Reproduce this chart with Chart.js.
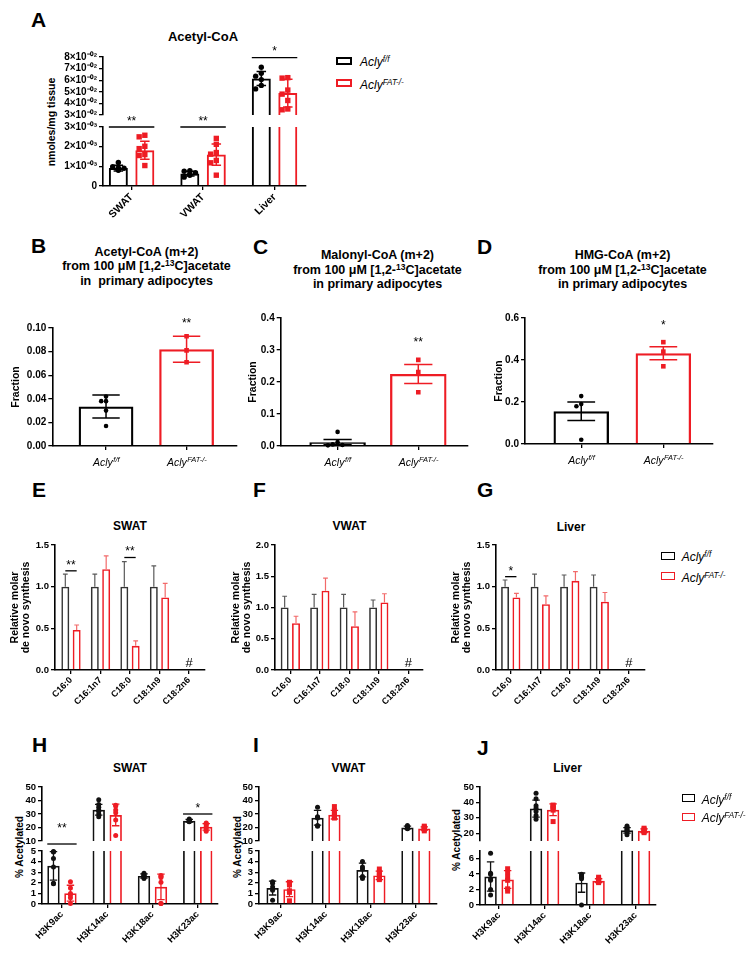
<!DOCTYPE html>
<html>
<head>
<meta charset="utf-8">
<script src="https://cdn.jsdelivr.net/npm/chart.js@4.4.1/dist/chart.umd.min.js"></script>
<style>
  body { margin: 0; background: #fff; }
  #fig { position: relative; width: 754px; height: 953px; overflow: hidden; font-family: 'Liberation Sans', Arial, sans-serif; color: #000; }
  #fig canvas { position: absolute; }
  .lbl { position: absolute; font-weight: bold; font-size: 21px; line-height: 21px; }
  .ttl { position: absolute; transform: translateX(-50%); text-align: center; font-weight: bold; font-size: 12.5px; line-height: 14.5px; white-space: pre; }
  .ttl sup, .leg sup { font-size: 0.68em; line-height: 0; vertical-align: 0.45em; }
  .ytl { position: absolute; font-weight: bold; white-space: nowrap; line-height: 1; transform: translate(-50%, -50%) rotate(-90deg); }
  .box { position: absolute; box-sizing: border-box; }
  .leg { position: absolute; font-style: italic; font-size: 12px; line-height: 14px; white-space: nowrap; }
</style>
</head>
<body>
<div id="fig">
  <div class="lbl" style="left:31px;top:9px">A</div>
  <div class="lbl" style="left:31px;top:235px">B</div>
  <div class="lbl" style="left:253px;top:236px">C</div>
  <div class="lbl" style="left:477px;top:236px">D</div>
  <div class="lbl" style="left:32px;top:479px">E</div>
  <div class="lbl" style="left:253px;top:479px">F</div>
  <div class="lbl" style="left:477px;top:479px">G</div>
  <div class="lbl" style="left:32px;top:734px">H</div>
  <div class="lbl" style="left:253px;top:734px">I</div>
  <div class="lbl" style="left:477px;top:737px">J</div>

  <div class="ttl" style="left:203px;top:28.5px;font-size:13px;line-height:15px">Acetyl-CoA</div>
  <div class="ttl" style="left:146.5px;top:244.5px">Acetyl-CoA (m+2)<br>from 100 μM [1,2-<sup>13</sup>C]acetate<br>in  primary adipocytes</div>
  <div class="ttl" style="left:377.5px;top:248px">Malonyl-CoA (m+2)<br>from 100 μM [1,2-<sup>13</sup>C]acetate<br>in primary adipocytes</div>
  <div class="ttl" style="left:622.5px;top:248px">HMG-CoA (m+2)<br>from 100 μM [1,2-<sup>13</sup>C]acetate<br>in primary adipocytes</div>
  <div class="ttl" style="left:130px;top:519px;font-size:12px;line-height:14px">SWAT</div>
  <div class="ttl" style="left:349.5px;top:519px;font-size:12px;line-height:14px">VWAT</div>
  <div class="ttl" style="left:571px;top:520px;font-size:12px;line-height:14px">Liver</div>
  <div class="ttl" style="left:130px;top:761px;font-size:12px;line-height:14px">SWAT</div>
  <div class="ttl" style="left:348.5px;top:761px;font-size:12px;line-height:14px">VWAT</div>
  <div class="ttl" style="left:567.5px;top:761px;font-size:12px;line-height:14px">Liver</div>

  <div class="ytl" style="left:51px;top:122px;font-size:10.5px">nmoles/mg tissue</div>
  <div class="ytl" style="left:20px;top:847px;font-size:10px">% Acetylated</div>
  <div class="ytl" style="left:238px;top:847px;font-size:10px">% Acetylated</div>
  <div class="ytl" style="left:457px;top:840px;font-size:10px">% Acetylated</div>
</div>

<script>
Chart.defaults.font.family = "'Liberation Sans', Arial, sans-serif";
Chart.defaults.color = '#000';

const RED = '#ee1c24';
const FONT = "'Liberation Sans', Arial, sans-serif";

// ---------- data ----------
const genotypes = [['Acly', 'f/f'], ['Acly', 'FAT-/-']];

// A: acetyl-CoA (nmoles/mg tissue)
const tissues = ['SWAT', 'VWAT', 'Liver'];
const acFF = [0.00091, 0.00063, 0.0614];
const acFFsd = [0.00015, 0.00012, 0.006];
const acKO = [0.00182, 0.0016, 0.0489];
const acKOsd = [0.00046, 0.00054, 0.012];
const acFFpts = [
  [0.0012, 0.00098, 0.00092, 0.0009, 0.00085, 0.00082, 0.0008],
  [0.00078, 0.00075, 0.00068, 0.00062, 0.00055, 0.00045],
  [0.0712, 0.066, 0.0635, 0.0605, 0.0555, 0.0525]
];
const acKOpts = [
  [0.00258, 0.0025, 0.00202, 0.0019, 0.0016, 0.00155, 0.00104],
  [0.00242, 0.00212, 0.0017, 0.00162, 0.0013, 0.00118, 0.00055],
  [0.0622, 0.0618, 0.0515, 0.048, 0.0425, 0.0352, 0.0345]
];
const acTicksLow = ['0', '1×10⁻⁰³', '2×10⁻⁰³', '3×10⁻⁰³'];
const acTicksHigh = ['3×10⁻⁰²', '4×10⁻⁰²', '5×10⁻⁰²', '6×10⁻⁰²', '7×10⁻⁰²', '8×10⁻⁰²'];

// B-D: m+2 fraction in primary adipocytes
const acetylFF = [0.0335], acetylFFsd = [0.0098];
const acetylKO = [0.082], acetylKOsd = [0.011];
const acetylFFpts = [[0.042, 0.038, 0.038, 0.030, 0.017]];
const acetylKOpts = [[0.093, 0.081, 0.071]];
const malonylFF = [0.012], malonylFFsd = [0.008];
const malonylKO = [0.225], malonylKOsd = [0.03];
const malonylFFpts = [[0.044, 0.012, 0.005, 0.003, 0.002]];
const malonylKOpts = [[0.269, 0.231, 0.168]];
const hmgFF = [0.156], hmgFFsd = [0.044];
const hmgKO = [0.432], hmgKOsd = [0.031];
const hmgFFpts = [[0.228, 0.19, 0.18, 0.02]];
const hmgKOpts = [[0.485, 0.44, 0.37]];

// E-G: relative molar de novo synthesis
const fattyAcids = ['C16:0', 'C16:1n7', 'C18:0', 'C18:1n9', 'C18:2n6'];
const swatFF = [1, 1, 1, 1, null], swatFFsd = [0.15, 0.15, 0.30, 0.25, null];
const swatKO = [0.48, 1.21, 0.29, 0.87, null], swatKOsd = [0.06, 0.16, 0.06, 0.17, null];
const vwatFF = [1, 1, 1, 1, null], vwatFFsd = [0.18, 0.21, 0.21, 0.12, null];
const vwatKO = [0.75, 1.27, 0.70, 1.08, null], vwatKOsd = [0.11, 0.20, 0.23, 0.14, null];
const liverFF = [1, 1, 1, 1, null], liverFFsd = [0.08, 0.15, 0.14, 0.14, null];
const liverKO = [0.87, 0.79, 1.07, 0.82, null], liverKOsd = [0.05, 0.10, 0.11, 0.11, null];

// H-J: % acetylated histone H3
const histoneSites = ['H3K9ac', 'H3K14ac', 'H3K18ac', 'H3K23ac'];
const swatHFF = [3.6, 33.2, 2.65, 25.0], swatHFFsd = [1.35, 4.0, 0.2, 1.0];
const swatHKO = [1.02, 29.3, 1.62, 20.5], swatHKOsd = [0.75, 8.0, 1.2, 2.4];
const swatHFFpts = [[4.95, 4.9, 4.3, 3.5, 1.95, 1.9], [40.5, 37, 35, 33, 32, 30, 28], [2.9, 2.8, 2.7, 2.65, 2.55, 2.4, 2.6], [26.3, 25.6, 25.2, 24.8, 24.5, 24.2]];
const swatHKOpts = [[2.1, 1.5, 1.0, 0.85, 0.6, 0.05], [36.5, 36, 33, 31, 25.5, 14], [2.7, 2.6, 2.5, 2.05, 0.05, 0.05], [23.3, 22.7, 22, 20.5, 19, 17.3]];
const vwatHFF = [1.5, 27.2, 3.2, 20.0], vwatHFFsd = [0.65, 5.5, 0.65, 1.0];
const vwatHKO = [1.4, 29.5, 2.7, 19.2], vwatHKOsd = [0.7, 3.2, 0.4, 1.2];
const vwatHFFpts = [[2.1, 1.95, 1.6, 1.3, 0.35], [35, 28, 27.5, 27, 21.5, 21], [4.0, 3.5, 3.3, 2.6, 2.4], [21.5, 20.5, 20, 19.5, 19]];
const vwatHKOpts = [[2.05, 1.9, 1.8, 1.25, 1.1, 0.3], [35.5, 32.5, 30, 29, 28, 27], [3.3, 3.0, 2.8, 2.6, 2.4, 2.3], [21, 20.3, 19.5, 19, 18.5, 17.5]];
const liverHFF = [3.7, 36.0, 2.9, 21.9], liverHFFsd = [1.9, 5.5, 1.25, 1.8];
const liverHKO = [3.3, 35.2, 3.15, 21.6], liverHKOsd = [1.15, 3.8, 0.25, 1.2];
const liverHFFpts = [[6.7, 4.1, 4.0, 3.4, 3.2, 2.0, 1.3], [45.9, 42.4, 37.8, 36.3, 34.1, 31.5, 29.1], [4.0, 3.75, 3.6, 3.4, 0.0], [24.8, 23.9, 23, 22.2, 21.5, 20.9, 19.1]];
const liverHKOpts = [[4.7, 4.2, 3.6, 3.2, 2.1, 1.8], [38.3, 37.8, 37, 36.3, 35, 27.6], [3.6, 3.4, 3.3, 3.1, 3.0, 2.9], [23.3, 22.6, 21.7, 21.1, 20.4]];

// ---------- helpers ----------
const fixed = d => v => v.toFixed(d);

// simple beeswarm so dots with close values sit side by side
function swarm(py, r, half) {
  const placed = [];
  return py.map(y => {
    const cands = [0];
    for (let k = 1; k <= 4; k++) cands.push(-k * 2.1 * r, k * 2.1 * r);
    for (const dx of cands) {
      if (Math.abs(dx) > half) continue;
      if (placed.every(p => Math.hypot(p.dx - dx, p.y - y) >= 2 * r)) {
        placed.push({ dx, y });
        return dx;
      }
    }
    placed.push({ dx: 0, y });
    return 0;
  });
}

function dot(ctx, shape, x, y, r) {
  ctx.beginPath();
  if (shape === 'square') ctx.rect(x - r, y - r, 2 * r, 2 * r);
  else ctx.arc(x, y, r, 0, Math.PI * 2);
  ctx.fill();
}

// error bars, dots, significance marks
function marks(o) {
  return {
    id: 'marks',
    afterDatasetsDraw(chart) {
      const ctx = chart.ctx, xs = chart.scales.x, ys = chart.scales.y, a = chart.chartArea;
      ctx.save();
      ctx.beginPath();
      ctx.rect(a.left, a.top - 3, a.right - a.left, a.bottom - a.top + 6);
      ctx.clip();
      o.series.forEach((s, di) => {
        const meta = chart.getDatasetMeta(di);
        s.vals.forEach((m, j) => {
          if (m == null) return;
          const bar = meta.data[j];
          const cx = bar.x, bw = bar.width;
          if (s.sd) {
            const top = ys.getPixelForValue(m + s.sd[j]);
            const bot = ys.getPixelForValue(o.oneSided ? m : m - s.sd[j]);
            const cap = bw * (o.cap || 0.25);
            ctx.strokeStyle = s.err || s.edge;
            ctx.lineWidth = o.ew || 1.5;
            ctx.beginPath();
            ctx.moveTo(cx, top); ctx.lineTo(cx, bot);
            ctx.moveTo(cx - cap, top); ctx.lineTo(cx + cap, top);
            if (!o.oneSided) { ctx.moveTo(cx - cap, bot); ctx.lineTo(cx + cap, bot); }
            ctx.stroke();
          }
          if (s.pts) {
            const r = o.r || 2.3;
            const py = s.pts[j].map(v => ys.getPixelForValue(v));
            const dx = swarm(py, r, bw / 2 - r);
            ctx.fillStyle = s.edge;
            py.forEach((y, k) => dot(ctx, s.shape, cx + dx[k], y, r));
          }
        });
      });
      ctx.restore();

      ctx.save();
      ctx.fillStyle = '#000';
      ctx.strokeStyle = '#000';
      ctx.lineWidth = 1.3;
      ctx.textAlign = 'center';
      ctx.textBaseline = 'alphabetic';
      (o.sig || []).forEach(g => {
        const y = ys.getPixelForValue(g.v);
        let mid, starY;
        if (g.line) {
          const b0 = chart.getDatasetMeta(0).data[g.j], b1 = chart.getDatasetMeta(1).data[g.j];
          const x0 = g.line === 'outer' ? b0.x - b0.width / 2 : b0.x;
          const x1 = g.line === 'outer' ? b1.x + b1.width / 2 : b1.x;
          ctx.beginPath(); ctx.moveTo(x0, y); ctx.lineTo(x1, y); ctx.stroke();
          mid = (x0 + x1) / 2;
          starY = g.tv != null ? ys.getPixelForValue(g.tv) : y - 9;
        } else {
          mid = chart.getDatasetMeta(g.s).data[g.j].x;
          starY = y;
        }
        ctx.font = '12px ' + FONT;
        ctx.fillText(g.t, mid, starY + 6.9);
      });
      (o.hash || []).forEach(h => {
        ctx.font = '13px ' + FONT;
        ctx.fillText(h.t, xs.getPixelForValue(h.j), a.bottom - 3);
      });
      (o.rich || []).forEach((lab, j) => {
        const cx = xs.getPixelForValue(j), y = a.bottom + 20;
        ctx.textAlign = 'left';
        ctx.font = 'italic 10.5px ' + FONT;
        const w1 = ctx.measureText(lab[0]).width;
        ctx.font = 'italic 7.5px ' + FONT;
        const w2 = ctx.measureText(lab[1]).width;
        const x0 = cx - (w1 + w2) / 2;
        ctx.font = 'italic 10.5px ' + FONT;
        ctx.fillText(lab[0], x0, y);
        ctx.font = 'italic 7.5px ' + FONT;
        ctx.fillText(lab[1], x0 + w1 + 0.5, y - 4);
      });
      ctx.restore();
    }
  };
}

function makePanel(o) {
  const fig = document.getElementById('fig');
  const cv = document.createElement('canvas');
  const a = o.area;
  const padT = o.padT || 12, padR = 14, padB = o.showX ? 0 : 8;
  const xH = o.showX ? o.xH : 0;
  cv.width = Math.round(o.W + a.r - a.l + padR);
  cv.height = Math.round(padT + a.b - a.t + xH + padB);
  cv.style.left = (a.l - o.W) + 'px';
  cv.style.top = (a.t - padT) + 'px';
  fig.appendChild(cv);

  const axisLine = { color: '#000', width: 1.6 };
  const tickGrid = { drawOnChartArea: false, color: '#000', lineWidth: 1.3, tickLength: 4, offset: false };

  new Chart(cv, {
    type: 'bar',
    data: {
      datasets: o.series.map(s => ({
        data: s.vals.map((v, i) => ({ x: (s.at || 0) + i, y: v })),
        borderColor: s.edge,
        backgroundColor: 'rgba(255,255,255,0)',
        borderWidth: o.bw,
        borderSkipped: 'bottom',
        grouped: o.grouped !== false,
        categoryPercentage: o.cp,
        barPercentage: o.bp,
        clip: 0
      }))
    },
    options: {
      responsive: false,
      animation: false,
      devicePixelRatio: 1,
      events: [],
      layout: { padding: { top: padT, right: padR, bottom: padB, left: 0 } },
      plugins: { legend: { display: false }, tooltip: { enabled: false } },
      scales: {
        x: {
          type: 'linear', min: o.xmin, max: o.xmax, offset: false, display: !!o.showX,
          border: axisLine,
          grid: tickGrid,
          ticks: {
            stepSize: 1, includeBounds: false, autoSkip: false, display: !!o.cats,
            minRotation: 45, maxRotation: 45, padding: 1,
            font: { size: o.xf || 9.5, weight: 'bold' },
            callback: v => (o.cats ? o.cats[v] : '')
          },
          afterFit: s => { s.height = xH; }
        },
        y: {
          min: o.ymin, max: o.ymax,
          border: axisLine,
          grid: tickGrid,
          ticks: { stepSize: o.step, includeBounds: false, autoSkip: false, padding: 2, font: { size: o.tf || 9.5, weight: 'bold' }, callback: o.yfmt },
          title: o.ytitle
            ? { display: true, text: o.ytitle, font: { size: 10.5, weight: 'bold', lineHeight: 1.0 }, padding: { top: 4, bottom: 0 } }
            : { display: false },
          afterFit: s => { s.width = o.W; }
        }
      }
    },
    plugins: [marks(o)]
  });
}

function legend(x, y, gap, bw, bh, lw, textX) {
  const fig = document.getElementById('fig');
  [['#000', genotypes[0]], [RED, genotypes[1]]].forEach(([c, g], k) => {
    const b = document.createElement('div');
    b.className = 'box';
    b.style.cssText = `left:${x}px;top:${y + k * gap}px;width:${bw}px;height:${bh}px;border:${lw}px solid ${c}`;
    fig.appendChild(b);
    const t = document.createElement('div');
    t.className = 'leg';
    t.style.left = textX + 'px';
    t.style.top = (y + k * gap - 1.5) + 'px';
    t.innerHTML = g[0] + '<sup>' + g[1] + '</sup>';
    fig.appendChild(t);
  });
}

// ---------- panel A (broken axis: two stacked charts) ----------
const seriesA = [
  { vals: acFF, sd: acFFsd, pts: acFFpts, edge: '#000', shape: 'circle' },
  { vals: acKO, sd: acKOsd, pts: acKOpts, edge: RED, shape: 'square' }
];
const baseA = { W: 48, xmin: -0.4, xmax: 2.44, series: seriesA, cp: 0.741, bp: 0.717, bw: 2, r: 2.7, ew: 1.5, tf: 10 };
makePanel(Object.assign({}, baseA, {
  area: { l: 103, t: 57, r: 306, b: 115.3 }, padT: 14, showX: false,
  ymin: 0.03, ymax: 0.08, step: 0.01, yfmt: (v, i) => acTicksHigh[i],
  sig: [{ j: 2, v: 0.0795, t: '*', line: 'outer' }]
}));
makePanel(Object.assign({}, baseA, {
  area: { l: 103, t: 127, r: 306, b: 186 }, padT: 20, showX: true, xH: 40, cats: tissues, xf: 10.5,
  ymin: 0, ymax: 0.003, step: 0.001, yfmt: (v, i) => acTicksLow[i],
  sig: [{ j: 0, v: 0.003, t: '**', line: 'outer' }, { j: 1, v: 0.003, t: '**', line: 'outer' }]
}));
legend(336, 56.7, 22.3, 16, 8, 2, 360);

// ---------- panels B-D ----------
function fractionPanel(area, W, xmin, xmax, ymax, step, dec, bp, ff, ffsd, ffpts, ko, kosd, kopts, star, starV) {
  makePanel({
    area, W, padT: 30, showX: true, xH: 30, xmin, xmax, ymin: 0, ymax, step, yfmt: fixed(dec), tf: 10,
    series: [
      { at: 0, vals: ff, sd: ffsd, pts: ffpts, edge: '#000', shape: 'circle' },
      { at: 1, vals: ko, sd: kosd, pts: kopts, edge: RED, shape: 'square' }
    ],
    grouped: false, cp: 1, bp, bw: 2.3, r: 2.3, ew: 1.5, cap: 0.25,
    ytitle: 'Fraction', rich: genotypes,
    sig: [{ s: 1, j: 0, v: starV, t: star }]
  });
}
fractionPanel({ l: 52, t: 328.3, r: 237, b: 446.7 }, 45.3, -0.667, 1.626, 0.1, 0.02, 2, 0.68,
  acetylFF, acetylFFsd, acetylFFpts, acetylKO, acetylKOsd, acetylKOpts, '**', 0.107);
fractionPanel({ l: 280.7, t: 318.3, r: 468, b: 446.3 }, 36.7, -0.705, 1.616, 0.4, 0.1, 1, 0.70,
  malonylFF, malonylFFsd, malonylFFpts, malonylKO, malonylKOsd, malonylKOpts, '**', 0.335);
fractionPanel({ l: 525, t: 318.3, r: 713, b: 444.5 }, 35, -0.685, 1.605, 0.6, 0.2, 1, 0.676,
  hmgFF, hmgFFsd, hmgFFpts, hmgKO, hmgKOsd, hmgKOpts, '*', 0.579);

// ---------- panels E-G ----------
function synthPanel(area, W, xmin, xmax, ymax, ff, ffsd, ko, kosd, sig) {
  makePanel({
    area, W, padT: 12, showX: true, xH: 40, cats: fattyAcids, xf: 9,
    xmin, xmax, ymin: 0, ymax, step: 0.5, yfmt: fixed(1),
    series: [
      { vals: ff, sd: ffsd, edge: '#333', err: '#5a5a5a' },
      { vals: ko, sd: kosd, edge: RED, err: '#f26a6a' }
    ],
    oneSided: true, cp: 0.77, bp: 0.70, bw: 1.6, ew: 1.2, cap: 0.3,
    ytitle: ['Relative molar', 'de novo synthesis'],
    sig, hash: [{ j: 4, t: '#' }]
  });
}
synthPanel({ l: 55, t: 545, r: 205, b: 670 }, 49, -0.542, 4.542, 1.5, swatFF, swatFFsd, swatKO, swatKOsd,
  [{ j: 0, v: 1.19, t: '**', line: 'inner' }, { j: 2, v: 1.35, t: '**', line: 'inner' }]);
synthPanel({ l: 275, t: 545, r: 423, b: 670 }, 48, -0.52, 4.5, 2.0, vwatFF, vwatFFsd, vwatKO, vwatKOsd, []);
synthPanel({ l: 496, t: 545, r: 645, b: 670 }, 49, -0.5, 4.55, 1.5, liverFF, liverFFsd, liverKO, liverKOsd,
  [{ j: 0, v: 1.12, t: '*', line: 'inner' }]);
legend(661, 551.7, 20.6, 14, 8, 1.5, 681.7);

// ---------- panels H-J (broken axis) ----------
function histonePanel(l, r, xmin, xmax, top, low, ff, ffsd, ffpts, ko, kosd, kopts, koShape, sigTop, sigLow, W) {
  const series = [
    { vals: ff, sd: ffsd, pts: ffpts, edge: '#111', shape: 'circle' },
    { vals: ko, sd: kosd, pts: kopts, edge: RED, shape: koShape }
  ];
  const base = { W, xmin, xmax, series, cp: 0.75, bp: 0.73, bw: 1.7, r: 2.5, ew: 1.3, cap: 0.3, yfmt: fixed(0) };
  makePanel(Object.assign({}, base, {
    area: { l, t: 787.3, r, b: 841 }, padT: 12, showX: false,
    ymin: top[0], ymax: top[1], step: 10, sig: sigTop
  }));
  makePanel(Object.assign({}, base, {
    area: { l, t: low[2], r, b: 904.3 }, padT: 32, showX: true, xH: 45, cats: histoneSites, xf: 9.5,
    ymin: 0, ymax: low[0], step: low[1], sig: sigLow
  }));
}
histonePanel(42, 218.3, -0.441, 3.448, [10, 50], [5, 1, 851],
  swatHFF, swatHFFsd, swatHFFpts, swatHKO, swatHKOsd, swatHKOpts, 'circle',
  [{ j: 3, v: 30, t: '*', line: 'outer' }],
  [{ j: 0, v: 5.66, tv: 7.44, t: '**', line: 'outer' }], 20);
histonePanel(259, 436.7, -0.49, 3.47, [10, 50], [5, 1, 851],
  vwatHFF, vwatHFFsd, vwatHFFpts, vwatHKO, vwatHKOsd, vwatHKOpts, 'square', [], [], 18);
histonePanel(480, 655.7, -0.42, 3.45, [15, 50], [7, 2, 850.7],
  liverHFF, liverHFFsd, liverHFFpts, liverHKO, liverHKOsd, liverHKOpts, 'square', [], [], 18);
legend(681.7, 794, 18.7, 13, 8, 1.5, 701.7);
</script>
</body>
</html>
